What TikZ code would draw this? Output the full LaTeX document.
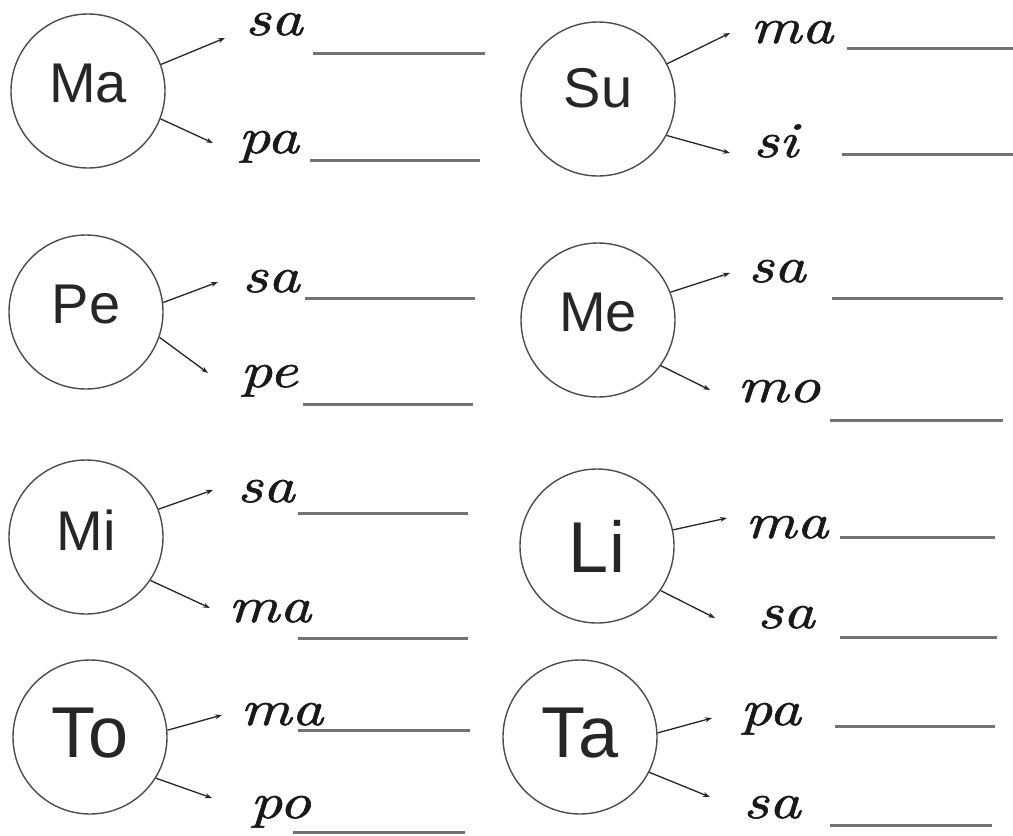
\documentclass[tikz,border=0pt]{standalone}
\usepackage{fontspec}
\newfontfamily\circfont{Liberation Sans}
\newfontfamily\sylfont[FakeStretch=1.25,FakeBold=1.2]{lmroman10-italic.otf}
\usetikzlibrary{arrows.meta}
\begin{document}
\begin{tikzpicture}[x=1pt,y=-1pt,
  syl/.style={circle,draw=black!70,line width=1.4pt,minimum size=154pt,inner sep=0pt,text depth=16pt,text=black!85,font=\circfont\fontsize{56}{60}\selectfont},
  sylbig/.style={syl,text depth=8pt,font=\circfont\fontsize{72}{76}\selectfont},
  word/.style={anchor=base west,inner sep=0pt,text=black!90,font=\sylfont\fontsize{50}{52}\selectfont},
  link/.style={line width=1.3pt,draw=black!85,-{Stealth[length=7pt,width=5pt]}},
  blank/.style={line width=3pt,draw=black!55}]
\useasboundingbox[fill=white] (0,0) rectangle (1013,836);

% Ma
\node[syl] (ma) at (88,91) {Ma};
\coordinate (ma1) at (225,38);
\coordinate (ma2) at (213,143);
\node[word] (ma1t) at (245,35) {sa};
\node[word] (ma2t) at (238,153) {pa};
\draw[link] (ma.20) -- (ma1);
\draw[link] (ma.-21) -- (ma2);
\draw[blank] (313,53) -- (485,53);
\draw[blank] (310,160) -- (480,160);

% Su
\node[syl,text depth=22pt] (su) at (598,99) {Su};
\coordinate (su1) at (730,33);
\coordinate (su2) at (730,153);
\node[word] (su1t) at (750,43) {ma};
\node[word] (su2t) at (753,157) {si};
\draw[link] (su.27) -- (su1);
\draw[link] (su.-28) -- (su2);
\draw[blank] (847,48) -- (1013,48);
\draw[blank] (842,154) -- (1013,154);

% Pe
\node[syl] (pe) at (86,312) {Pe};
\coordinate (pe1) at (218,282);
\coordinate (pe2) at (208,373);
\node[word] (pe1t) at (242,292) {sa};
\node[word] (pe2t) at (240,387) {pe};
\draw[link] (pe.7) -- (pe1);
\draw[link] (pe.-19) -- (pe2);
\draw[blank] (305,298) -- (475,298);
\draw[blank] (303,404) -- (473,404);

% Me
\node[syl] (me) at (598,320) {Me};
\coordinate (me1) at (730,273);
\coordinate (me2) at (710,390);
\node[word] (me1t) at (748,282) {sa};
\node[word] (me2t) at (737,402) {mo};
\draw[link] (me.21) -- (me1);
\draw[link] (me.-36) -- (me2);
\draw[blank] (832,298) -- (1003,298);
\draw[blank] (830,420) -- (1003,420);

% Mi
\node[syl,text depth=14pt] (mi) at (86,537) {Mi};
\coordinate (mi1) at (213,490);
\coordinate (mi2) at (210,608);
\node[word] (mi1t) at (237,502) {sa};
\node[word] (mi2t) at (228,622) {ma};
\draw[link] (mi.21) -- (mi1);
\draw[link] (mi.-34) -- (mi2);
\draw[blank] (298,513) -- (468,513);
\draw[blank] (298,638) -- (468,638);

% To
\node[sylbig] (to) at (90,737) {To};
\coordinate (to1) at (222,715);
\coordinate (to2) at (212,798);
\node[word] (to1t) at (240,725) {ma};
\node[word] (to2t) at (250,818) {po};
\draw[link] (to.5) -- (to1);
\draw[link] (to.-32) -- (to2);
\draw[blank] (298,730) -- (470,730);
\draw[blank] (293,832) -- (465,832);

% Li
\node[sylbig,text depth=0pt] (li) at (597,546) {Li};
\coordinate (li1) at (727,518);
\coordinate (li2) at (715,618);
\node[word] (li1t) at (745,538) {ma};
\node[word] (li2t) at (757,628) {sa};
\draw[link] (li.12) -- (li1);
\draw[link] (li.-35) -- (li2);
\draw[blank] (840,537) -- (995,537);
\draw[blank] (840,637) -- (997,637);

% Ta
\node[sylbig] (ta) at (580,737) {Ta};
\coordinate (ta1) at (712,718);
\coordinate (ta2) at (710,797);
\node[word] (ta1t) at (740,725) {pa};
\node[word] (ta2t) at (743,818) {sa};
\draw[link] (ta.3) -- (ta1);
\draw[link] (ta.-27) -- (ta2);
\draw[blank] (835,726) -- (995,726);
\draw[blank] (830,825) -- (992,825);
\end{tikzpicture}
\end{document}
